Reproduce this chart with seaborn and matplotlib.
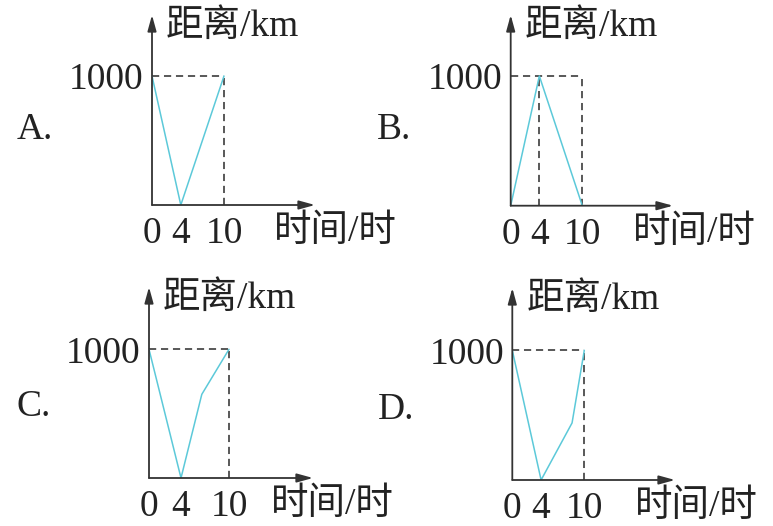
import seaborn as sns
import matplotlib.pyplot as plt

# distance (km) vs time (h) for each option
a_x = [0, 4, 10]
a_y = [1000, 0, 1000]
b_x = [0, 4, 10]
b_y = [0, 1000, 0]
c_x = [0, 4, 6.6, 10]
c_y = [1000, 0, 650, 1000]
d_x = [0, 4, 8.3, 10]
d_y = [1000, 0, 440, 1000]

x_ticks = [0, 4, 10]
x_tick_labels = ["0", "4", "10"]
y_ticks = [1000]
y_tick_labels = ["1000"]
letters = ["A.", "B.", "C.", "D."]
y_label = "距离/km"
x_label = "时间/时"

sns.set_style("white")
plt.rcParams['font.family'] = ['Liberation Serif', 'Noto Sans CJK SC']
plt.rcParams['font.size'] = 27

W, H = 773, 526
line_color = "#5cc9d9"
ink = "#333333"
dash = (0, (4.5, 3))

# pixel geometry of each panel: origin x, origin y, x=10 px, y=1000 px, arrow end x, arrow top y
panels = [
    (a_x, a_y, (152, 205, 224, 76, 315, 15), (17, 130), False),
    (b_x, b_y, (510.7, 205.7, 582.3, 76, 673, 15), (377, 130), True),
    (c_x, c_y, (149, 478, 229, 349.3, 313, 287), (17, 407), False),
    (d_x, d_y, (512.3, 480, 584.3, 350.3, 675, 288), (378, 410), False),
]

fig = plt.figure(figsize=(W / 100, H / 100), dpi=100)

for (xs, ys, geo, letter_pos, peak_line), letter in zip(panels, letters):
    ox, oy, x10, y1000, xend, ytop = geo
    ax = fig.add_axes([ox / W, 1 - oy / H, (xend - ox) / W, (oy - ytop) / H])
    sx = (x10 - ox) / 10
    sy = (oy - y1000) / 1000
    ax.set_xlim(0, (xend - ox) / sx)
    ax.set_ylim(0, (oy - ytop) / sy)
    ax.patch.set_alpha(0)
    for s in ax.spines.values():
        s.set_visible(False)

    top = y_ticks[0]
    x_end = xs[-1]
    ax.hlines(top, 0, x_end, colors=ink, lw=1.15, linestyles=dash)
    ax.vlines(x_end, 0, top, colors=ink, lw=1.15, linestyles=dash)
    if peak_line:
        i = ys.index(max(ys))
        ax.vlines(xs[i], 0, ys[i], colors=ink, lw=1.15, linestyles=dash)

    sns.lineplot(x=xs, y=ys, ax=ax, color=line_color, lw=1.1, estimator=None, sort=False)

    arrow = dict(arrowstyle="-|>,head_length=0.8,head_width=0.22", color=ink, lw=1.3,
                 shrinkA=0, shrinkB=0, mutation_scale=12)
    ax.annotate("", xy=(1, 0), xytext=(0, 0), xycoords="axes fraction", arrowprops=arrow)
    ax.annotate("", xy=(0, 1), xytext=(0, 0), xycoords="axes fraction", arrowprops=arrow)

    ax.set_xticks(x_ticks, x_tick_labels)
    ax.set_yticks(y_ticks, y_tick_labels)
    ax.tick_params(axis="x", length=0, pad=8.5, colors="#222222")
    ax.tick_params(axis="y", length=0, pad=6, colors="#222222")

    ax.annotate(y_label, xy=(0, 1), xycoords="axes fraction", xytext=(10, -8.5),
                textcoords="offset points", ha="left", va="center", color="#222222")
    ax.annotate(x_label, xy=(0, 0), xycoords="axes fraction", xytext=(88, -19.5),
                textcoords="offset points", ha="left", va="center", color="#222222")

    fig.text(letter_pos[0] / W, 1 - letter_pos[1] / H, letter, ha="left", va="center",
             color="#222222")

fig.savefig("out.png", dpi=100)
